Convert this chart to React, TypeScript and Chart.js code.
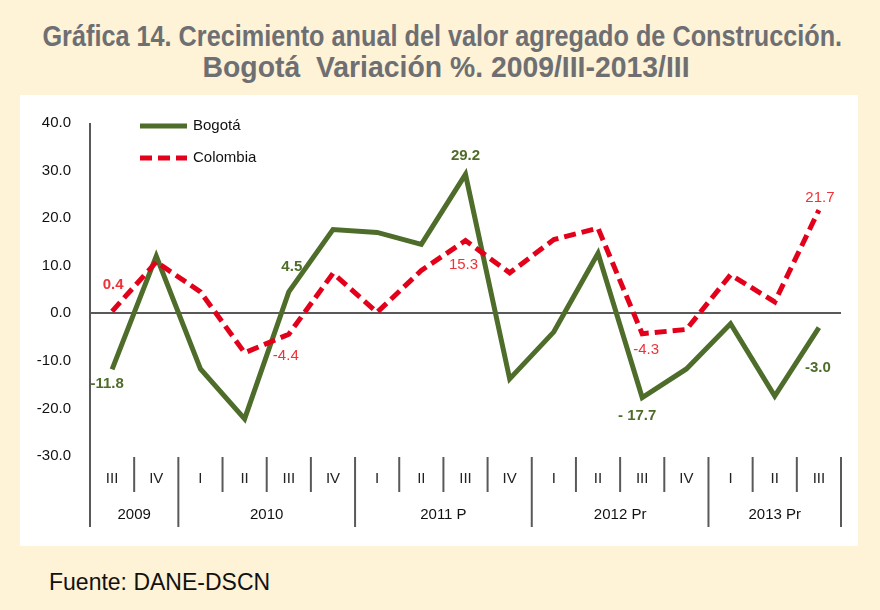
import React, { useEffect, useRef } from "react";
import { Chart, registerables } from "chart.js";

Chart.register(...registerables);

const quarters = ["III", "IV", "I", "II", "III", "IV", "I", "II", "III", "IV", "I", "II", "III", "IV", "I", "II", "III"];
const years = ["2009", "2010", "2011 P", "2012 Pr", "2013 Pr"];
const yearSpans = [2, 4, 4, 4, 3];
const bogota = [-11.8, 12.0, -11.7, -22.2, 4.5, 17.6, 17.0, 14.5, 29.2, -13.8, -3.9, 12.6, -17.7, -11.7, -2.2, -17.4, -3.0];
const colombia = [0.4, 10.8, 4.5, -8.3, -4.4, 8.4, 0.2, 9.0, 15.3, 8.5, 15.5, 17.9, -4.3, -3.4, 8.1, 2.4, 21.7];
const labeledIdx = [0, 4, 8, 12, 16];
const yMin = -30;
const yMax = 40;
const yStep = 10;
const titleLines = ["Gráfica 14. Crecimiento anual del valor agregado de Construcción.", "Bogotá  Variación %. 2009/III-2013/III"];

const GREEN = "#4F6D2A";
const RED = "#E3001B";
const RED_LABEL = "#EE3238";
const AXIS = "#595959";
const FONT = "'Liberation Sans', Arial, sans-serif";

// label offsets (style only) relative to the data point
const greenOffsets = [[-5, 14], [3, -25], [0, -19], [-5, 18], [-1, 40]];
const redOffsets = [[1, -27], [-3, 22], [-2, 24], [4, 16], [1, -12]];

const fmt = (v: number) => v.toFixed(1);

const overlay = {
  id: "overlay",
  afterDraw(chart: any) {
    const { ctx, chartArea, scales } = chart;
    const { left, right, top, bottom } = chartArea;
    const x = scales.x;
    const y = scales.y;
    ctx.save();
    ctx.strokeStyle = AXIS;
    ctx.lineWidth = 2;
    const line = (x1: number, y1: number, x2: number, y2: number) => {
      ctx.beginPath();
      ctx.moveTo(x1, y1);
      ctx.lineTo(x2, y2);
      ctx.stroke();
    };
    line(left, top, left, bottom + 71);
    const boundaries = new Set<number>();
    let acc = 0;
    yearSpans.forEach((s) => {
      acc += s;
      boundaries.add(acc);
    });
    for (let i = 1; i < quarters.length; i++) {
      const xm = (x.getPixelForValue(i - 1) + x.getPixelForValue(i)) / 2;
      line(xm, bottom + 1, xm, boundaries.has(i) ? bottom + 71 : bottom + 36);
    }
    line(right, bottom + 1, right, bottom + 71);
    ctx.fillStyle = "#111";
    ctx.font = `15px ${FONT}`;
    ctx.textAlign = "center";
    ctx.textBaseline = "middle";
    let start = 0;
    years.forEach((yr, k) => {
      const end = start + yearSpans[k] - 1;
      const cx = (x.getPixelForValue(start) + x.getPixelForValue(end)) / 2;
      ctx.fillText(yr, cx, bottom + 59);
      start = end + 1;
    });
    const lx = left + 50;
    ctx.lineWidth = 5;
    ctx.strokeStyle = GREEN;
    line(lx, top + 3, lx + 47, top + 3);
    ctx.strokeStyle = RED;
    ctx.setLineDash([12, 6]);
    line(lx, top + 35, lx + 47, top + 35);
    ctx.setLineDash([]);
    ctx.fillStyle = "#111";
    ctx.textAlign = "left";
    ctx.font = `15px ${FONT}`;
    ctx.fillText("Bogotá", lx + 53, top + 3);
    ctx.fillText("Colombia", lx + 53, top + 35);
    ctx.textAlign = "center";
    labeledIdx.forEach((i, k) => {
      const px = x.getPixelForValue(i);
      const gy = y.getPixelForValue(bogota[i]);
      ctx.fillStyle = GREEN;
      ctx.font = `bold 15px ${FONT}`;
      let t = fmt(bogota[i]);
      if (i === 12) t = t.replace("-", "- ");
      ctx.fillText(t, px + greenOffsets[k][0], gy + greenOffsets[k][1]);
      const ry = y.getPixelForValue(colombia[i]);
      ctx.fillStyle = RED_LABEL;
      ctx.font = (i === 0 ? "bold " : "") + `15px ${FONT}`;
      ctx.fillText(fmt(colombia[i]), px + redOffsets[k][0], ry + redOffsets[k][1]);
    });
    ctx.restore();
  },
};

export default function App() {
  const ref = useRef<HTMLCanvasElement | null>(null);
  const line1 = useRef<HTMLSpanElement | null>(null);
  const line2 = useRef<HTMLSpanElement | null>(null);
  useEffect(() => {
    document.body.style.margin = "0";
    document.body.style.background = "#FEF2D7";
    // condense the title lines to the reference widths
    if (line1.current) {
      const w = line1.current.offsetWidth;
      line1.current.style.transform = `scaleX(${w > 0 ? 800 / w : 0.75})`;
    }
    if (line2.current) {
      const w = line2.current.offsetWidth;
      line2.current.style.transform = `scaleX(${w > 0 ? 487 / w : 0.85})`;
    }
    const canvas = ref.current!;
    const chart = new Chart(canvas, {
      type: "line",
      data: {
        labels: quarters,
        datasets: [
          {
            label: "Bogotá",
            data: bogota,
            borderColor: GREEN,
            backgroundColor: GREEN,
            borderWidth: 5,
            pointRadius: 0,
            tension: 0,
            order: 2,
          },
          {
            label: "Colombia",
            data: colombia,
            borderColor: RED,
            backgroundColor: RED,
            borderWidth: 5,
            borderDash: [12, 6],
            pointRadius: 0,
            tension: 0,
            order: 1,
          },
        ],
      },
      options: {
        responsive: false,
        animation: false,
        devicePixelRatio: 1,
        layout: { padding: { top: 27, right: 17, left: 0, bottom: 0 } },
        plugins: { legend: { display: false }, tooltip: { enabled: false }, title: { display: false } },
        scales: {
          x: {
            offset: true,
            grid: { display: false, drawTicks: false },
            border: { display: false },
            ticks: { color: "#222", font: { family: FONT, size: 15 }, padding: 14, maxRotation: 0, autoSkip: false },
            afterFit: (s: any) => {
              s.height = 90;
            },
          },
          y: {
            min: yMin,
            max: yMax,
            ticks: {
              stepSize: yStep,
              color: "#111",
              font: { family: FONT, size: 15 },
              padding: 19,
              callback: (v: any) => Number(v).toFixed(1),
            },
            grid: {
              drawTicks: false,
              lineWidth: 2,
              color: (c: any) => (c.tick && c.tick.value === 0 ? AXIS : "rgba(0,0,0,0)"),
            },
            border: { display: false },
            afterFit: (s: any) => {
              s.width = 70;
            },
          },
        },
      },
      plugins: [overlay],
    });
    return () => chart.destroy();
  }, []);

  const titleStyle: React.CSSProperties = {
    display: "inline-block",
    whiteSpace: "pre",
    transformOrigin: "center center",
  };

  return (
    <div style={{ position: "relative", width: 880, height: 610, background: "#FEF2D7", overflow: "hidden" }}>
      <div
        style={{
          position: "absolute",
          top: 21,
          left: 2,
          width: 880,
          textAlign: "center",
          fontFamily: FONT,
          fontWeight: "bold",
          fontSize: 29,
          lineHeight: "31px",
          color: "#6E6F72",
        }}
      >
        <div style={{ height: 31, display: "flex", justifyContent: "center" }}>
          <span ref={line1} style={titleStyle}>{titleLines[0]}</span>
        </div>
        <div style={{ height: 31, display: "flex", justifyContent: "center", paddingLeft: 8 }}>
          <span ref={line2} style={titleStyle}>{titleLines[1]}</span>
        </div>
      </div>
      <div style={{ position: "absolute", left: 20, top: 95, width: 838, height: 451, background: "#FFFFFF" }}>
        <canvas ref={ref} width={838} height={451} style={{ display: "block", width: 838, height: 451 }} />
      </div>
      <div
        style={{
          position: "absolute",
          left: 49,
          top: 569,
          fontFamily: FONT,
          fontSize: 23,
          lineHeight: "26px",
          color: "#111",
        }}
      >
        Fuente: DANE-DSCN
      </div>
    </div>
  );
}
